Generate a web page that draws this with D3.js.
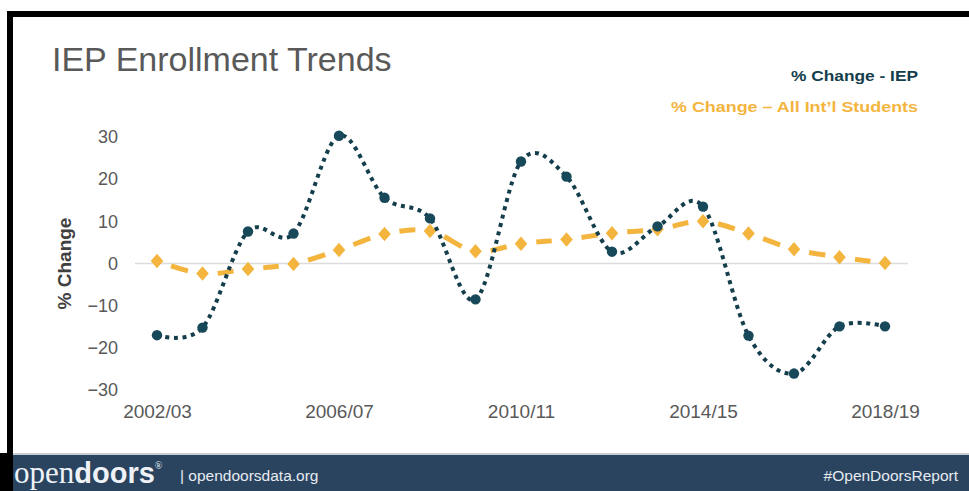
<!DOCTYPE html>
<html>
<head>
<meta charset="utf-8">
<script src="https://cdn.jsdelivr.net/npm/d3@7"></script>
<style>
  body { margin: 0; background: #fff; }
  svg { display: block; font-family: "Liberation Sans", Arial, Helvetica, sans-serif; }
</style>
</head>
<body>
<svg id="chart" width="969" height="491"></svg>
<script>
// ---- data ----
const years = ["2002/03","2003/04","2004/05","2005/06","2006/07","2007/08","2008/09","2009/10",
               "2010/11","2011/12","2012/13","2013/14","2014/15","2015/16","2016/17","2017/18","2018/19"];
const iepChange = [-17.0, -15.2, 7.6, 7.1, 30.3, 15.6, 10.7, -8.5,
                   24.2, 20.6, 2.8, 8.8, 13.5, -17.1, -26.1, -14.9, -14.9];
const allIntlChange = [0.6, -2.4, -1.3, -0.1, 3.2, 7.0, 7.7, 2.9,
                       4.7, 5.7, 7.2, 8.1, 10.0, 7.1, 3.4, 1.5, 0.1];
const yTicks = [-30, -20, -10, 0, 10, 20, 30];
const xTickLabels = ["2002/03", "2006/07", "2010/11", "2014/15", "2018/19"];
const seriesNames = ["% Change - IEP", "% Change \u2013 All Int\u2019l Students"];

// ---- styles ----
const iepColor = "#143e4c";
const iepMarker = "#17495a";
const intlColor = "#f4b53f";
const textGray = "#595959";

const svg = d3.select("#chart");

// frame
svg.append("rect").attr("x", 0).attr("y", 0).attr("width", 969).attr("height", 491).attr("fill", "#fff");
svg.append("rect").attr("x", 7).attr("y", 11).attr("width", 962).attr("height", 6).attr("fill", "#000");
svg.append("rect").attr("x", 7).attr("y", 11).attr("width", 6).attr("height", 480).attr("fill", "#000");

// title
svg.append("text").attr("x", 52).attr("y", 71)
  .attr("font-size", 34).attr("fill", textGray).text("IEP Enrollment Trends");

// legend
svg.append("text").attr("x", 918).attr("y", 81).attr("text-anchor", "end")
  .attr("font-size", 15.5).attr("font-weight", "bold").attr("fill", iepColor)
  .attr("textLength", 127).attr("lengthAdjust", "spacingAndGlyphs").text(seriesNames[0]);
svg.append("text").attr("x", 918).attr("y", 112).attr("text-anchor", "end")
  .attr("font-size", 15.5).attr("font-weight", "bold").attr("fill", intlColor)
  .attr("textLength", 247).attr("lengthAdjust", "spacingAndGlyphs").text(seriesNames[1]);

// scales
const x = d3.scalePoint().domain(years).range([157, 885]);
const y = d3.scaleLinear().domain([-30, 30]).range([390, 137]);

// y axis
const yAxis = svg.append("g").attr("transform", "translate(118,0)")
  .call(d3.axisLeft(y).tickValues(yTicks).tickSize(0).tickPadding(0).tickFormat(d3.format("d")));
yAxis.select(".domain").remove();
yAxis.selectAll("text").attr("font-size", 18).attr("fill", textGray)
  .attr("font-family", "Liberation Sans, Arial, sans-serif");

// x axis
const xAxis = svg.append("g").attr("transform", "translate(0,397)")
  .call(d3.axisBottom(x).tickValues(xTickLabels).tickSize(0).tickPadding(8));
xAxis.select(".domain").remove();
xAxis.selectAll("text").attr("font-size", 19).attr("fill", textGray)
  .attr("font-family", "Liberation Sans, Arial, sans-serif");

// y title
svg.append("text").attr("transform", `translate(71,${y(0)}) rotate(-90)`)
  .attr("text-anchor", "middle").attr("font-size", 19).attr("font-weight", "bold")
  .attr("fill", "#404040").text("% Change");

// zero line
svg.append("line").attr("x1", 135).attr("x2", 908).attr("y1", y(0)).attr("y2", y(0))
  .attr("stroke", "#dcdcdc").attr("stroke-width", 1.5);

const line = d3.line().x((d, i) => x(years[i])).y(d => y(d)).curve(d3.curveCatmullRom.alpha(0));

// All Int'l series: long dashes centred on each point
const intlPath = svg.append("path").datum(allIntlChange).attr("d", line)
  .attr("fill", "none").attr("stroke", intlColor).attr("stroke-width", 5);
const pNode = intlPath.node();
const total = pNode.getTotalLength();
const ptLen = [];
{
  let idx = 0;
  const step = 0.5;
  for (let L = 0; L <= total && idx < years.length; L += step) {
    const p = pNode.getPointAtLength(L);
    if (p.x >= x(years[idx])) { ptLen.push(L); idx++; }
  }
  while (ptLen.length < years.length) ptLen.push(total);
}
const half = 15;
const dashes = [];
let cur = 0;
ptLen.forEach((L) => {
  const s = Math.max(0, L - half), e = Math.min(total, L + half);
  dashes.push(s - cur, e - s);
  cur = e;
});
dashes.push(total);
intlPath.attr("stroke-dasharray", dashes.join(" "));

svg.append("g").selectAll("path").data(allIntlChange).join("path")
  .attr("transform", (d, i) => `translate(${x(years[i])},${y(d)}) scale(1.35,0.9)`)
  .attr("d", d3.symbol().type(d3.symbolDiamond).size(75))
  .attr("fill", intlColor);

// IEP series: dotted smooth line with circle markers
svg.append("path").datum(iepChange).attr("d", line)
  .attr("fill", "none").attr("stroke", iepColor).attr("stroke-width", 4)
  .attr("stroke-dasharray", "4 4.6");
svg.append("g").selectAll("circle").data(iepChange).join("circle")
  .attr("cx", (d, i) => x(years[i])).attr("cy", d => y(d)).attr("r", 5.2)
  .attr("fill", iepMarker);

// footer
svg.append("rect").attr("x", 0).attr("y", 453).attr("width", 969).attr("height", 2).attr("fill", "#c9ced3");
svg.append("rect").attr("x", 0).attr("y", 455).attr("width", 969).attr("height", 36).attr("fill", "#2a4460");
svg.append("rect").attr("x", 0).attr("y", 453).attr("width", 13).attr("height", 38).attr("fill", "#000");
const logo = svg.append("text").attr("x", 14).attr("y", 483)
  .attr("font-family", "Liberation Serif, 'DejaVu Serif', serif").attr("fill", "#eef2f6");
logo.append("tspan").attr("font-size", 31).text("open");
logo.append("tspan").attr("font-size", 29).attr("font-weight", "bold")
  .attr("font-family", "Liberation Sans, Arial, sans-serif").text("doors");
logo.append("tspan").attr("font-size", 10).attr("dy", -14).text("\u00AE");
svg.append("text").attr("x", 180).attr("y", 481).attr("font-size", 15.5).attr("fill", "#e6ebf0")
  .text("| opendoorsdata.org");
svg.append("text").attr("x", 958).attr("y", 481).attr("text-anchor", "end")
  .attr("font-size", 15.5).attr("fill", "#e6ebf0").text("#OpenDoorsReport");
</script>
</body>
</html>
